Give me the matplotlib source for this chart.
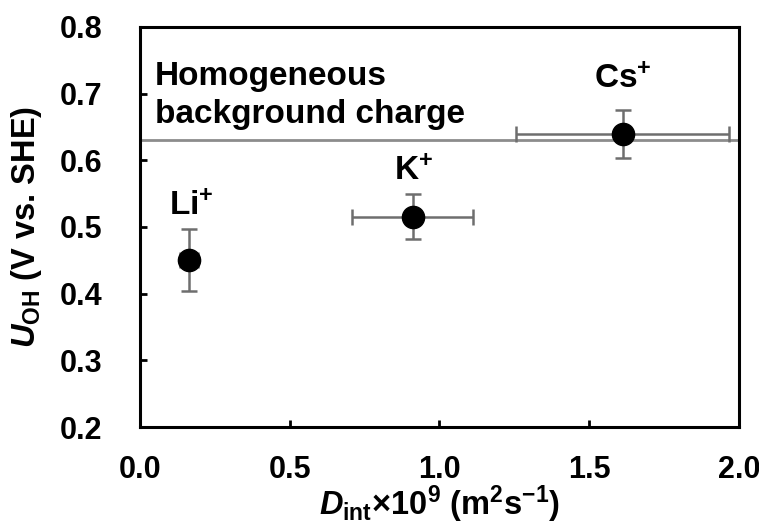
import numpy as np
import matplotlib
matplotlib.use("Agg")
from matplotlib import pyplot as plt

plt.rcParams["font.family"] = ["Liberation Sans", "DejaVu Sans"]
plt.rcParams["font.weight"] = "bold"
plt.rcParams["mathtext.fontset"] = "custom"
plt.rcParams["mathtext.rm"] = "Liberation Sans:bold"
plt.rcParams["mathtext.it"] = "Liberation Sans:bold:italic"
plt.rcParams["mathtext.bf"] = "Liberation Sans:bold"

# data
ions = ["Li$^{+}$", "K$^{+}$", "Cs$^{+}$"]
d_int = [0.165, 0.91, 1.613]
d_lo = [0.135, 0.709, 1.257]
d_hi = [0.195, 1.113, 1.968]
u_oh = [0.451, 0.515, 0.639]
u_lo = [0.404, 0.482, 0.604]
u_hi = [0.497, 0.549, 0.675]
label_x = [0.17, 0.913, 1.613]
label_y = [0.518, 0.571, 0.708]
background_u = 0.63
note_lines = ["Homogeneous", "background charge"]
note_y = [0.713, 0.656]

d_int = np.array(d_int)
u_oh = np.array(u_oh)
xerr = [d_int - np.array(d_lo), np.array(d_hi) - d_int]
yerr = [u_oh - np.array(u_lo), np.array(u_hi) - u_oh]

fig = plt.figure(figsize=(7.59, 5.26), dpi=100)
ax = fig.add_axes([0.1845, 0.1882, 0.789, 0.7605])

ax.axhline(background_u, color="#8c8c8c", lw=2.0, zorder=1)
ax.errorbar(d_int, u_oh, xerr=xerr, yerr=yerr, fmt="o", color="black",
            ms=16, ecolor="#6e6e6e", elinewidth=1.8, capsize=6, capthick=1.8,
            zorder=3)

fs = 22
for name, lx, ly in zip(ions, label_x, label_y):
    ax.text(lx, ly, name, ha="center", va="baseline", fontsize=24, fontweight="bold")

for line, ly in zip(note_lines, note_y):
    ax.text(0.05, ly, line, ha="left", va="baseline", fontsize=24, fontweight="bold")

ax.set_xlim(0, 2.0)
ax.set_ylim(0.2, 0.8)
ax.set_xticks([0.0, 0.5, 1.0, 1.5, 2.0])
ax.set_yticks([0.2, 0.3, 0.4, 0.5, 0.6, 0.7, 0.8])
ax.xaxis.set_major_formatter(matplotlib.ticker.FormatStrFormatter("%.1f"))
ax.yaxis.set_major_formatter(matplotlib.ticker.FormatStrFormatter("%.1f"))
ax.tick_params(direction="in", length=5, width=2, labelsize=fs)
ax.tick_params(axis="y", pad=27)
ax.tick_params(axis="x", pad=20)
for s in ax.spines.values():
    s.set_linewidth(2.2)

ax.set_xlabel(r"$D_{\mathrm{int}}$×10$^{9}$ (m$^{2}$s$^{-1}$)", fontsize=23.5,
              fontweight="bold")
ax.set_ylabel(r"$U_{\mathrm{OH}}$ (V vs. SHE)", fontsize=23.5, fontweight="bold")
ax.xaxis.set_label_coords(0.5, -0.14)
ax.yaxis.set_label_coords(-0.16, 0.5)

fig.savefig("out.png", dpi=100)
